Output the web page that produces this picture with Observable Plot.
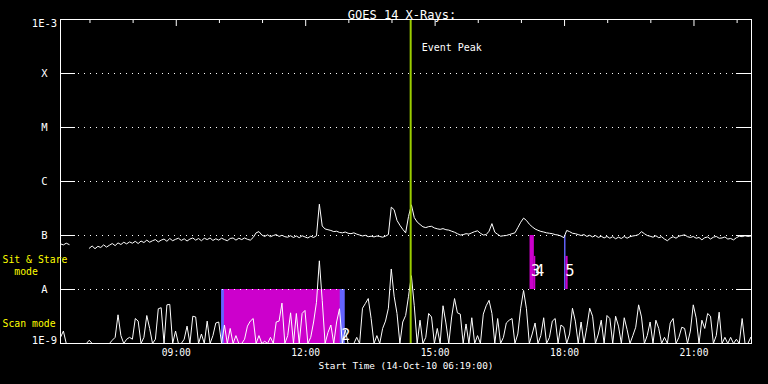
<!DOCTYPE html>
<html><head><meta charset="utf-8">
<script src="https://cdn.jsdelivr.net/npm/d3@7"></script>
<script src="https://cdn.jsdelivr.net/npm/@observablehq/plot@0.6"></script>
<style>html,body{margin:0;padding:0;background:#000;}</style>
</head><body><div id="chart"></div>
<script>
const startTime = "2010-10-14T06:19:00Z";
const endTime = "2010-10-14T22:20:00Z";
const sampleMinutes = 4;
// GOES 1-8 A flux, nW/m^2 (null = data gap)
const upperFlux = [70,67,72,68,null,null,null,null,null,null,
58,64,57,63,60,67,61,66,71,65,73,
68,75,70,76,72,78,71,79,74,82,
75,80,84,76,82,86,78,88,80,85,
89,81,87,79,86,90,82,88,80,89,
84,90,81,87,82,89,84,80,88,90,
82,89,84,90,85,82,92,112,118,102,
96,103,95,100,104,96,101,95,93,99,
92,98,91,99,94,90,97,92,99,380,
150,132,128,124,118,120,114,112,116,110,
108,112,106,102,98,101,95,97,94,98,
96,93,97,104,335,300,190,155,130,112,
225,370,215,178,160,145,140,146,148,138,
133,130,134,128,126,120,115,108,102,104,
108,106,112,118,122,110,102,104,120,166,
115,105,97,99,100,104,108,112,140,176,
210,190,162,145,132,125,119,116,112,110,
108,104,102,98,91,124,118,110,108,104,
100,104,96,101,94,100,92,97,90,96,
89,95,87,93,88,96,89,95,98,100,
104,118,108,100,97,93,99,91,95,86,
80,89,95,89,97,100,103,95,92,96,
89,92,83,91,94,86,93,96,89,90,
94,86,88,83,91,97,95,99,96,98];
// lower series, nW/m^2
const lowerFlux = [1.3,1.7,0.5,0.5,0.5,0.5,0.5,0.5,0.5,0.5,1.15,
0.5,0.5,0.5,0.5,0.5,0.5,0.5,1.15,1.3,3.4,
1.4,0.5,1.2,1.3,1.2,2.9,2.6,0.5,1.3,3.3,
1.9,0.8,1.2,4.4,4.6,0.8,5.2,5.3,0.8,1.7,
0.8,0.5,1.2,2.1,0.8,3.2,3.1,0.8,1.5,0.8,
2.6,0.8,1.4,2.4,2.5,0.8,2.2,1.0,1.9,0.8,
1.4,0.8,0.5,1.2,2.1,2.6,2.9,0.8,1.4,0.8,
1.1,0.8,1.3,0.8,2.5,2.6,5.6,0.8,1.4,3.7,
0.9,3.6,1.0,3.6,4.1,0.9,1.3,2.5,5.8,34,
6.3,0.9,1.6,2.2,0.9,2.5,4.4,0.9,1.8,0.8,
0.5,0.8,1.3,0.8,4.5,5.5,6.8,2.9,0.8,1.4,
0.8,1.9,2.6,4.5,24,7.5,3.6,0.9,2.5,3.3,
7.5,18,5.0,0.9,2.7,0.8,1.3,3.6,3.1,0.8,
1.9,0.8,5.0,2.4,0.9,3.1,6.8,3.7,3.5,0.9,
2.3,0.8,3.0,0.8,1.4,0.8,3.5,5.0,6.3,3.6,
0.9,2.9,0.8,1.3,2.4,2.7,2.9,0.8,1.5,4.5,
9.6,4.4,0.8,1.5,2.4,0.8,1.4,3.0,0.8,1.3,
2.6,2.9,0.9,2.2,2.0,0.8,1.5,4.5,2.6,0.8,
2.5,0.8,2.0,4.5,3.2,0.8,1.5,2.7,0.9,3.3,
2.9,0.9,3.2,2.1,0.9,3.0,1.8,0.8,1.4,2.0,
5.2,3.1,0.8,1.4,2.5,0.8,2.7,1.9,0.8,1.3,
0.8,2.4,2.9,0.8,1.3,2.0,1.9,0.8,1.7,5.2,
3.0,0.9,2.7,1.9,3.6,3.2,0.8,1.4,3.8,0.8,
1.3,0.8,1.3,0.8,1.2,0.8,2.9,0.8,0.5,1.3];
const levelValues = [1e-9,1e-8,1e-7,1e-6,1e-5,1e-4,1e-3];
const levelLabels = ["1E-9","A","B","C","M","X","1E-3"];
const majorTickLabels = ["09:00","12:00","15:00","18:00","21:00"];
const eventPeakTime = "14:26";
const blueWindows = [
  {start:"10:03", end:"12:55", low:1e-9, high:1e-8},
  {start:"18:00", end:"18:02", low:1e-8, high:1e-7}
];
const magentaWindows = [
  {start:"10:07", end:"12:48", low:1e-9, high:1e-8},
  {start:"17:12", end:"17:18", low:1e-8, high:1e-7},
  {start:"17:18", end:"17:20", low:1e-8, high:4.1e-8},
  {start:"18:02", end:"18:05", low:1e-8, high:4.1e-8}
];
const obsLabels = [
  {label:"2", time:"12:48", flux:1.4e-9},
  {label:"3", time:"17:12", flux:2.15e-8},
  {label:"4", time:"17:18", flux:2.15e-8},
  {label:"5", time:"18:00", flux:2.15e-8}
];
const titleText = "GOES 14 X-Rays:";
const xLabelText = "Start Time (14-Oct-10 06:19:00)";

const parseT = s => new Date(`2010-10-14T${s}:00Z`);
const t0 = new Date(startTime), t1 = new Date(endTime);
const samples = upperFlux.map((u, i) => ({
  t: new Date(+t0 + i * sampleMinutes * 60000),
  upper: u == null ? NaN : u * 1e-9,
  lower: lowerFlux[i] * 1e-9
}));
const hours = d3.utcHour.range(t0, t1);
const majors = majorTickLabels.map(parseT);
const mid = levelValues.slice(1, -1);
const W = 768 - 60 - 17, H = 384 - 19 - 41;
const BLUE = "#6464ff", MAG = "#cc00cc", GREEN = "#9acd00";
const font = "DejaVu Sans Mono";

const chart = Plot.plot({
  width: 768, height: 384,
  marginLeft: 60, marginRight: 17, marginTop: 19, marginBottom: 41,
  style: {background: "black", color: "white", fontFamily: font, fontSize: "10px"},
  x: {type: "utc", domain: [t0, t1], axis: null},
  y: {type: "log", domain: [1e-9, 1e-3], clamp: true, axis: null},
  marks: [
    Plot.rect(blueWindows, {x1: d => parseT(d.start), x2: d => parseT(d.end), y1: "low", y2: "high", fill: BLUE}),
    Plot.rect(magentaWindows, {x1: d => parseT(d.start), x2: d => parseT(d.end), y1: "low", y2: "high", fill: MAG}),
    Plot.ruleY(mid, {stroke: "white", strokeDasharray: "1,5"}),
    Plot.ruleY(mid, {stroke: "white", insetRight: W - 15}),
    Plot.ruleY(mid, {stroke: "white", insetLeft: W - 15}),
    Plot.ruleX(hours.filter(h => h.getUTCHours() % 3 !== 0), {stroke: "white", insetBottom: H - 4}),
    Plot.ruleX(majors, {stroke: "white", insetBottom: H - 7}),
    Plot.line(samples, {x: "t", y: "lower", stroke: "white", strokeWidth: 1}),
    Plot.line(samples, {x: "t", y: "upper", stroke: "white", strokeWidth: 1}),
    Plot.text(obsLabels, {x: d => parseT(d.time), y: "flux", text: "label", textAnchor: "start", dx: 1, fontSize: 15, fill: "white"}),
    Plot.ruleX([parseT(eventPeakTime)], {stroke: GREEN, strokeWidth: 2}),
    Plot.text(["Event Peak"], {x: [parseT(eventPeakTime)], frameAnchor: "top", dy: 24, dx: 11, textAnchor: "start", fontSize: 10}),
    Plot.frame({stroke: "white"}),
    Plot.text(levelLabels.slice(1, -1), {y: mid, frameAnchor: "left", dx: -16, textAnchor: "middle", fontSize: 10.5}),
    Plot.text([levelLabels[6]], {y: [levelValues[6]], frameAnchor: "left", dx: -16, textAnchor: "middle", lineAnchor: "top", fontSize: 10.5}),
    Plot.text([levelLabels[0]], {y: [levelValues[0]], frameAnchor: "left", dx: -16, textAnchor: "middle", lineAnchor: "bottom", fontSize: 10.5}),
    Plot.text(majorTickLabels, {x: majors, frameAnchor: "bottom", dy: 12, fontSize: 9.6}),
    Plot.text([xLabelText], {frameAnchor: "bottom", dy: 25, fontSize: 9.4}),
    Plot.text([titleText], {frameAnchor: "top", dy: -9, dx: -4, fontSize: 12}),
    Plot.text(["Sit & Stare\n\u00a0\u00a0mode"], {x: [t0], y: [2.8e-8], dx: -58, textAnchor: "start", fill: "yellow", fontSize: 9.8, lineHeight: 1.15}),
    Plot.text(["Scan mode"], {x: [t0], y: [2.3e-9], dx: -58, textAnchor: "start", fill: "yellow", fontSize: 9.8})
  ]
});
document.getElementById("chart").append(chart);
</script>
</body></html>
